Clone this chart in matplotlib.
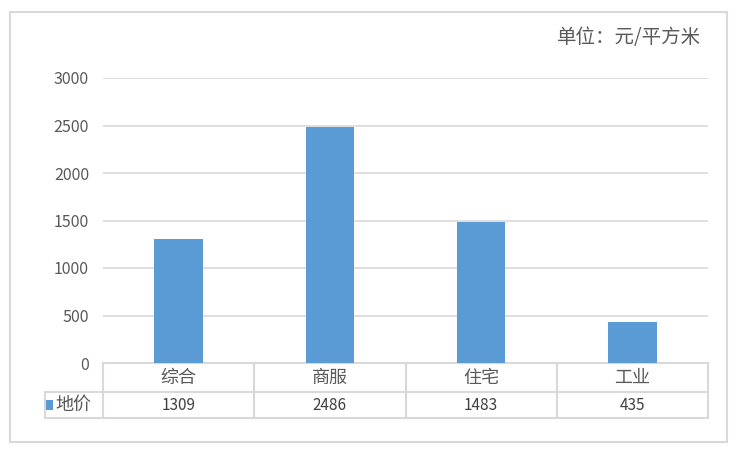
import matplotlib
matplotlib.use("Agg")
import matplotlib.pyplot as plt
from matplotlib.patches import Rectangle

plt.rcParams['font.family'] = ['Noto Sans CJK SC', 'DejaVu Sans']

# ── Data ──────────────────────────────────────────────────────────────────────
categories = ["综合", "商服", "住宅", "工业"]
land_price = [1309, 2486, 1483, 435]
series_name = "地价"
unit_label = "单位：元/平方米"
yticks = [0, 500, 1000, 1500, 2000, 2500, 3000]

BLUE = "#5b9bd5"
GRID = "#d9d9d9"
TXT = "#595959"

W, H = 740, 453
fig = plt.figure(figsize=(W / 100, H / 100), dpi=100)

# outer chart border
fig.patches.append(Rectangle((10 / W, 1 - 442 / H), 717 / W, 430 / H,
                             transform=fig.transFigure, fill=False,
                             edgecolor=GRID, linewidth=1.5))

x0, x1, ytop, ybot = 103, 708, 78, 363
ax = fig.add_axes([x0 / W, 1 - ybot / H, (x1 - x0) / W, (ybot - ytop) / H])

x = range(len(categories))
ax.bar(x, land_price, width=0.32, color=BLUE, zorder=3)
ax.set_xlim(-0.5, len(categories) - 0.5)
ax.set_ylim(0, 3000)
ax.set_yticks(yticks)
ax.set_yticklabels([str(v) for v in yticks], fontsize=11.5, color=TXT)
ax.tick_params(axis="y", length=0, pad=10)
ax.set_xticks([])
for s in ax.spines.values():
    s.set_visible(False)
ax.grid(axis="y", color=GRID, linewidth=1.2, zorder=0)

# ── Data table below the axes ────────────────────────────────────────────────
ph = ybot - ytop
pw = x1 - x0
r1 = -29 / ph
r2 = -55 / ph
hx = (45 - x0) / pw  # left edge of header column, axes coords
kw = dict(transform=ax.transAxes, color=GRID, linewidth=1.5, clip_on=False)
ax.plot([0, 1], [0, 0], **kw)
ax.plot([hx, 1], [r1, r1], **kw)
ax.plot([hx, 1], [r2, r2], **kw)
ax.plot([hx, hx], [r1, r2], **kw)
for i in range(len(categories) + 1):
    xv = i / len(categories)
    ax.plot([xv, xv], [0, r2], **kw)

for i, (cat, val) in enumerate(zip(categories, land_price)):
    cx = (i + 0.5) / len(categories)
    ax.text(cx, r1 / 2, cat, transform=ax.transAxes, ha="center", va="center",
            fontsize=13, color=TXT)
    ax.text(cx, (r1 + r2) / 2, str(val), transform=ax.transAxes, ha="center",
            va="center", fontsize=11, color="#404040")

# legend key + series name
ax.add_patch(Rectangle(((46 - x0) / pw, (r1 + r2) / 2 - 5 / ph), 7 / pw, 10 / ph,
                       transform=ax.transAxes, facecolor=BLUE, clip_on=False))
ax.text((55 - x0) / pw, (r1 + r2) / 2, series_name, transform=ax.transAxes,
        ha="left", va="center", fontsize=13, color=TXT)

fig.text(701 / W, 1 - 38 / H, unit_label, ha="right", va="center",
         fontsize=14, color=TXT)

fig.savefig("out.png", dpi=100)
